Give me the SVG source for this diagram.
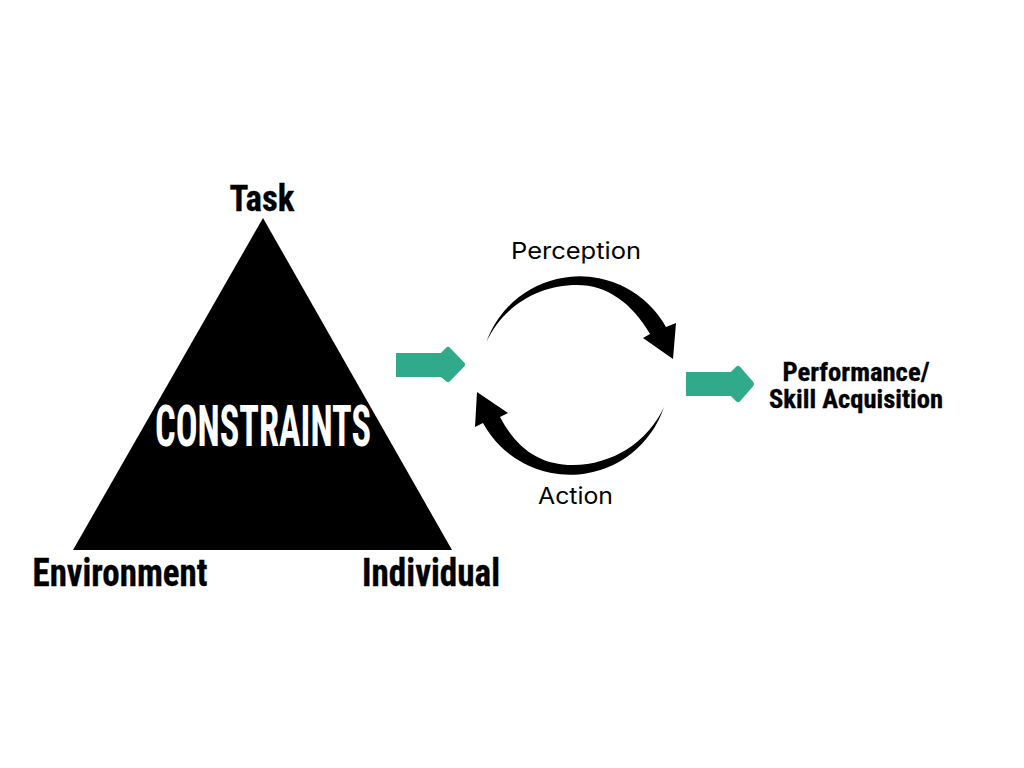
<svg xmlns="http://www.w3.org/2000/svg" width="1024" height="768" viewBox="0 0 1024 768">
<style>
.b{font-family:"Liberation Sans Narrow","Roboto Condensed","Roboto",sans-serif;font-weight:700;fill:#000;text-anchor:middle;stroke:#000;stroke-width:.3px}
.w{font-family:"Liberation Sans Narrow","Roboto Condensed","Roboto",sans-serif;font-weight:700;font-size:58px;fill:#fff;text-anchor:middle}
.r{font-family:"Inter","Noto Sans",sans-serif;font-size:23px;fill:#000;text-anchor:middle}
.g{fill:#31a98b}
.h{fill:#31a98b;stroke:#31a98b;stroke-width:6;stroke-linejoin:round}
</style>
<rect width="1024" height="768" fill="#fff"/>
<g id="triangle"><polygon points="263,218 452,550 73,550" fill="#000"/>
<text x="263" y="446" class="w" textLength="216" lengthAdjust="spacingAndGlyphs">CONSTRAINTS</text></g>
<g id="task"><text x="262" y="211" class="b" font-size="37" textLength="65" lengthAdjust="spacingAndGlyphs">Task</text></g>
<g id="environment"><text x="120" y="586" class="b" font-size="38" textLength="175" lengthAdjust="spacingAndGlyphs">Environment</text></g>
<g id="individual"><text x="431" y="586" class="b" font-size="38" textLength="138" lengthAdjust="spacingAndGlyphs">Individual</text></g>
<g id="perception"><text x="576" y="259" class="r" textLength="130" lengthAdjust="spacingAndGlyphs">Perception</text></g>
<g id="action"><text x="575.500" y="504" class="r" textLength="75" lengthAdjust="spacingAndGlyphs">Action</text></g>
<g id="performance"><text x="856" y="381" class="b" font-size="25" textLength="147" lengthAdjust="spacingAndGlyphs">Performance/</text><text x="856" y="408" class="b" font-size="25" textLength="174" lengthAdjust="spacingAndGlyphs">Skill Acquisition</text></g>
<g id="connectors">
<rect class="g" x="396" y="353" width="48" height="24"/>
<polygon class="h" points="442,356 448,350 462,364.500 448,379 442,374"/>
<rect class="g" x="686" y="372" width="46" height="24"/>
<polygon class="h" points="732,375 738,369 751,384 738,399 732,393"/>
<path d="M486,343A99,99 0 0 1 666,327L676,323L673,359L643,338L650,334C632,303 607,285 577,285C538,285 503,306 486,343Z"/>
<path d="M664,407A99,99 0 0 1 483,423L475,427L477,392L508,413L500,417C517,449 540,465 573,465C612,465 648,442 664,407Z"/>
</g>
</svg>
